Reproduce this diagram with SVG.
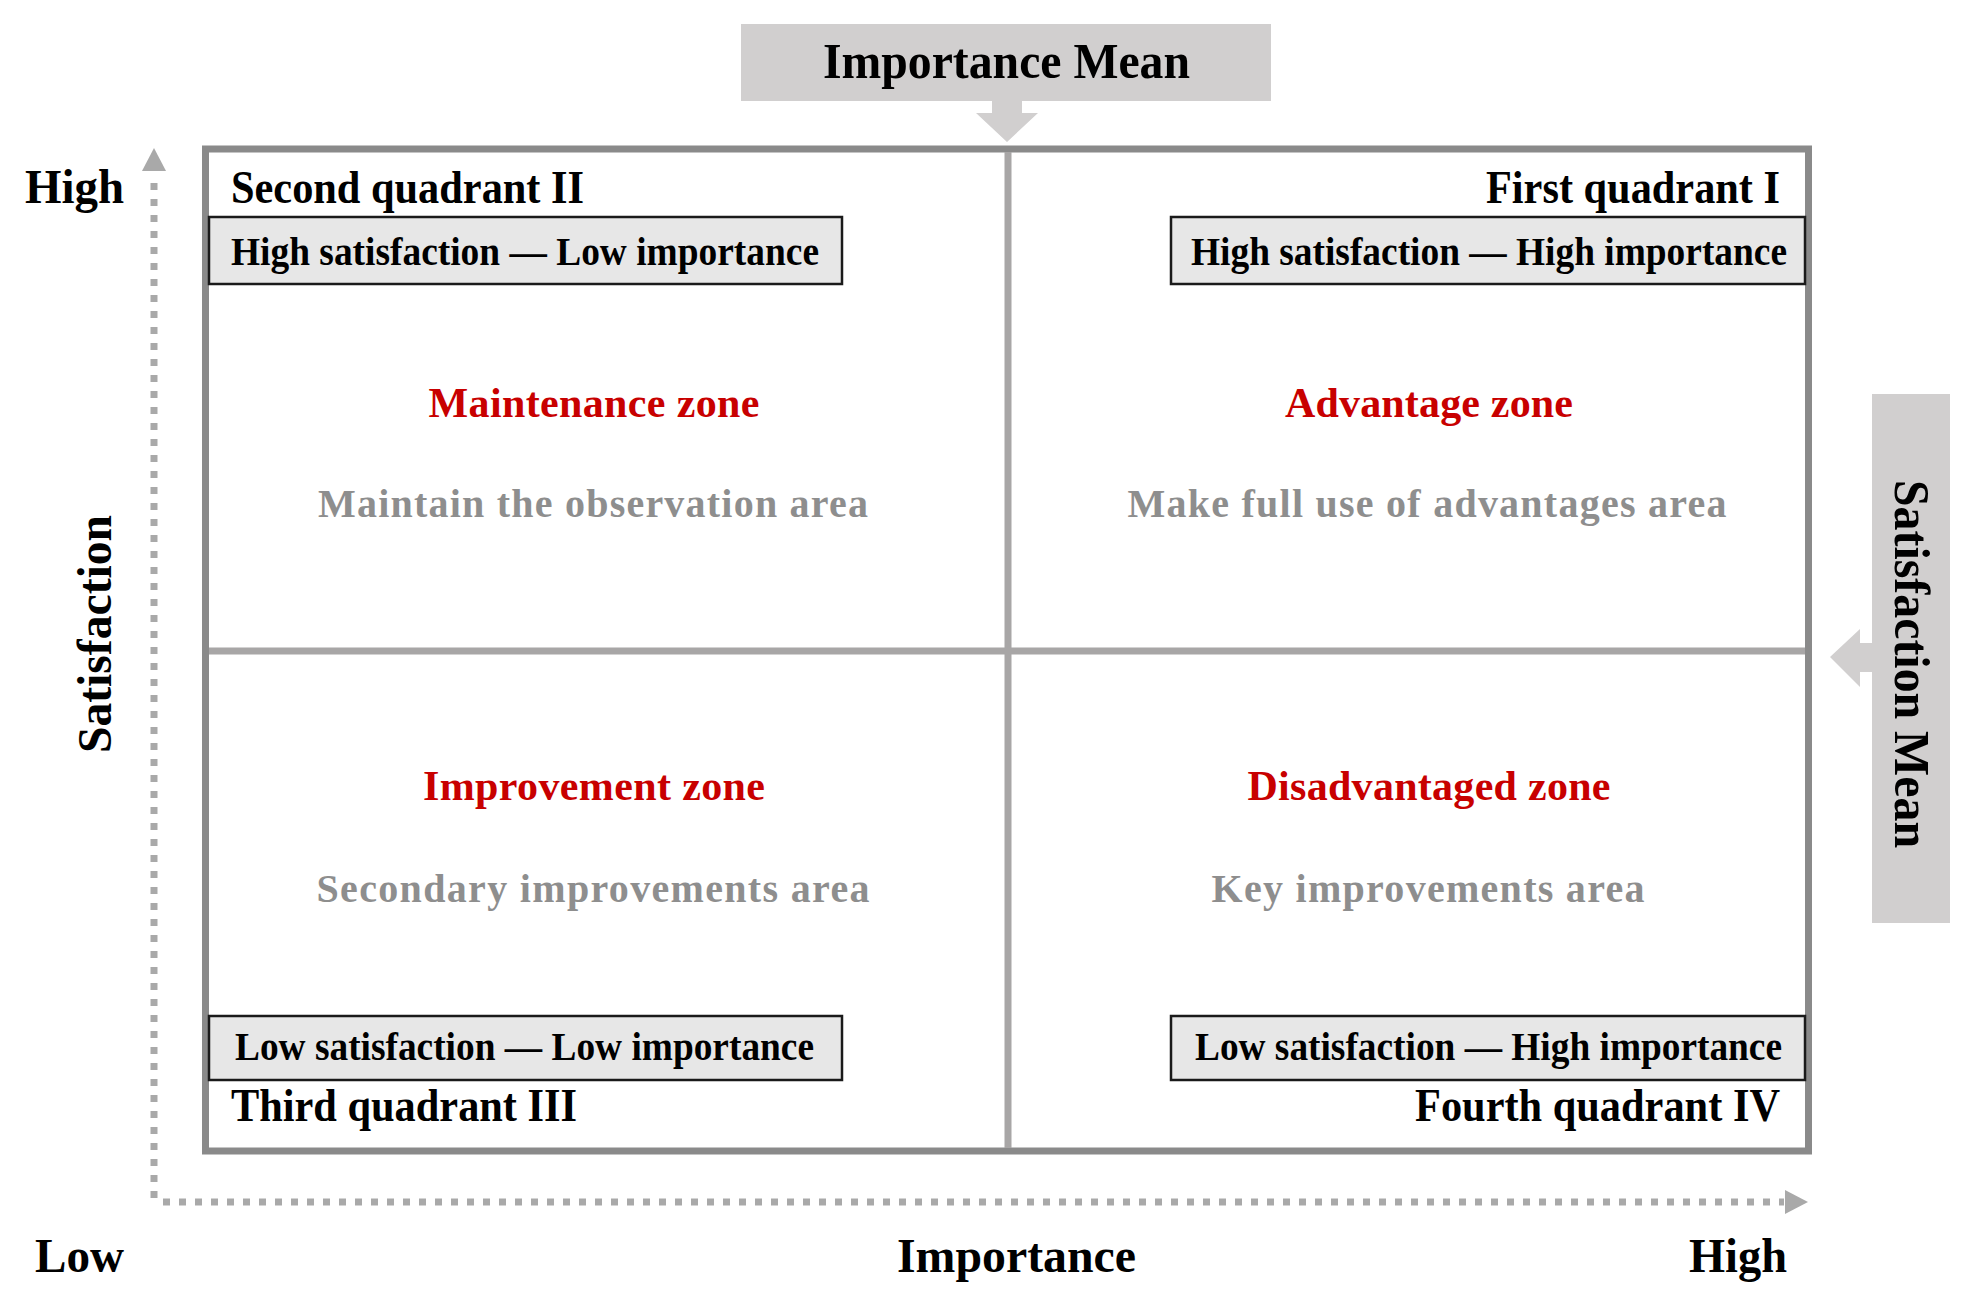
<svg xmlns="http://www.w3.org/2000/svg" width="1979" height="1311" viewBox="0 0 1979 1311">
<style>
text{font-family:"Liberation Serif","Times New Roman",serif;font-weight:bold}
.ax{font-size:48px}
.mean{font-size:50px}
.quad{font-size:46px}
.tag{font-size:40px}
.zone{font-size:42px;fill:#c80000;text-anchor:middle}
.desc{font-size:40px;fill:#8e8e8e;text-anchor:middle}
.tagbox{fill:#e7e7e7;stroke:#1a1a1a;stroke-width:2.5}
.meanbox{fill:#d1cfcf}
.dot{stroke:#a9a9a9;stroke-width:7;stroke-dasharray:7 9;fill:none}
.head{fill:#a9a9a9}
</style>
<rect width="1979" height="1311" fill="#fff"/>
<g id="axes">
<line class="dot" x1="154" y1="1198" x2="154" y2="174"/>
<polygon class="head" points="142,171 166,171 154,148"/>
<line class="dot" x1="163" y1="1202" x2="1784" y2="1202"/>
<polygon class="head" points="1785,1190 1785,1214 1808,1202"/>
<text class="ax" x="25" y="203" textLength="99" lengthAdjust="spacingAndGlyphs">High</text>
<text class="ax" x="35" y="1272" textLength="89" lengthAdjust="spacingAndGlyphs">Low</text>
<text class="ax" x="897" y="1272" textLength="239" lengthAdjust="spacingAndGlyphs">Importance</text>
<text class="ax" x="1689" y="1272" textLength="98" lengthAdjust="spacingAndGlyphs">High</text>
<text class="ax" text-anchor="middle" transform="translate(111,634) rotate(-90)" textLength="238" lengthAdjust="spacingAndGlyphs">Satisfaction</text>
</g>
<g id="frame">
<rect x="205.5" y="149" width="1603" height="1002" fill="#fff" stroke="#8a8a8a" stroke-width="7"/>
</g>
<g id="connectors">
<line x1="1008" y1="152" x2="1008" y2="1148" stroke="#a8a6a6" stroke-width="7"/>
<line x1="209" y1="651" x2="1805" y2="651" stroke="#a8a6a6" stroke-width="7"/>
<polygon class="meanbox" points="992,101 1022,101 1022,113 1038,113 1007,142 976,113 992,113"/>
<polygon class="meanbox" points="1872,643 1860,643 1860,629 1830,657 1860,687 1860,672 1872,672"/>
</g>
<g id="importance-mean">
<rect class="meanbox" x="741" y="24" width="530" height="77"/>
<text class="mean" x="1006.5" y="78" text-anchor="middle" textLength="367" lengthAdjust="spacingAndGlyphs">Importance Mean</text>
</g>
<g id="satisfaction-mean">
<rect class="meanbox" x="1872" y="394" width="78" height="529"/>
<text class="mean" text-anchor="middle" transform="translate(1895,664) rotate(90)" textLength="368" lengthAdjust="spacingAndGlyphs">Satisfaction Mean</text>
</g>
<g id="quadrant-2">
<text class="quad" x="231" y="203" textLength="353" lengthAdjust="spacingAndGlyphs">Second quadrant II</text>
<rect class="tagbox" x="209" y="217" width="633" height="67"/>
<text class="tag" x="231" y="265" textLength="588" lengthAdjust="spacingAndGlyphs">High satisfaction — Low importance</text>
<text class="zone" x="594" y="417" textLength="331">Maintenance zone</text>
<text class="desc" x="593" y="517" textLength="550">Maintain the observation area</text>
</g>
<g id="quadrant-1">
<text class="quad" x="1780" y="203" text-anchor="end" textLength="294" lengthAdjust="spacingAndGlyphs">First quadrant I</text>
<rect class="tagbox" x="1171" y="217" width="634" height="67"/>
<text class="tag" x="1191" y="265" textLength="596" lengthAdjust="spacingAndGlyphs">High satisfaction — High importance</text>
<text class="zone" x="1429" y="417" textLength="288">Advantage zone</text>
<text class="desc" x="1427" y="517" textLength="599">Make full use of advantages area</text>
</g>
<g id="quadrant-3">
<text class="zone" x="594" y="800" textLength="342">Improvement zone</text>
<text class="desc" x="593" y="902" textLength="553">Secondary improvements area</text>
<rect class="tagbox" x="209" y="1016" width="633" height="64"/>
<text class="tag" x="235" y="1060" textLength="579" lengthAdjust="spacingAndGlyphs">Low satisfaction — Low importance</text>
<text class="quad" x="231" y="1121" textLength="346" lengthAdjust="spacingAndGlyphs">Third quadrant III</text>
</g>
<g id="quadrant-4">
<text class="zone" x="1429" y="800" textLength="363">Disadvantaged zone</text>
<text class="desc" x="1428" y="902" textLength="433">Key improvements area</text>
<rect class="tagbox" x="1171" y="1016" width="634" height="64"/>
<text class="tag" x="1195" y="1060" textLength="587" lengthAdjust="spacingAndGlyphs">Low satisfaction — High importance</text>
<text class="quad" x="1780" y="1121" text-anchor="end" textLength="365" lengthAdjust="spacingAndGlyphs">Fourth quadrant IV</text>
</g>
</svg>
